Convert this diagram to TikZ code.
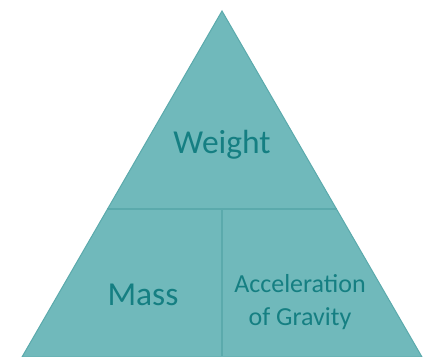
\documentclass[tikz,border=0pt]{standalone}
\usepackage{fontspec}
\setmainfont{Carlito}
\definecolor{tfill}{HTML}{70B9BB}
\definecolor{tline}{HTML}{5BAAAC}
\definecolor{ttext}{HTML}{157F82}
\begin{document}
\begin{tikzpicture}[x=1pt,y=1pt,
  lbl/.style={text=ttext, align=center, inner sep=0pt}]
\useasboundingbox (0,0) rectangle (425,356);
\coordinate (apex) at (222,345);
\coordinate (bl) at (22,-1);
\coordinate (br) at (422,-1);
\coordinate (ml) at (107.2,147);
\coordinate (mr) at (336.8,147);
\coordinate (mc) at (222,147);
\coordinate (bc) at (222,0);
\fill[tfill, draw=tline, line width=1pt] (bl) -- (apex) -- (br) -- cycle;
\draw[tline, line width=1.5pt] (ml) -- (mr);
\draw[tline, line width=1.5pt] (mc) -- (bc);
\node[lbl, font=\fontsize{33.5}{40}\selectfont] (w) at (222,211) {Weight};
\node[lbl, font=\fontsize{33.5}{40}\selectfont] (m) at (143,61) {Mass};
\node[lbl, font=\fontsize{26}{33}\selectfont] (a) at (300,54) {Acceleration\\of Gravity};
\end{tikzpicture}
\end{document}
